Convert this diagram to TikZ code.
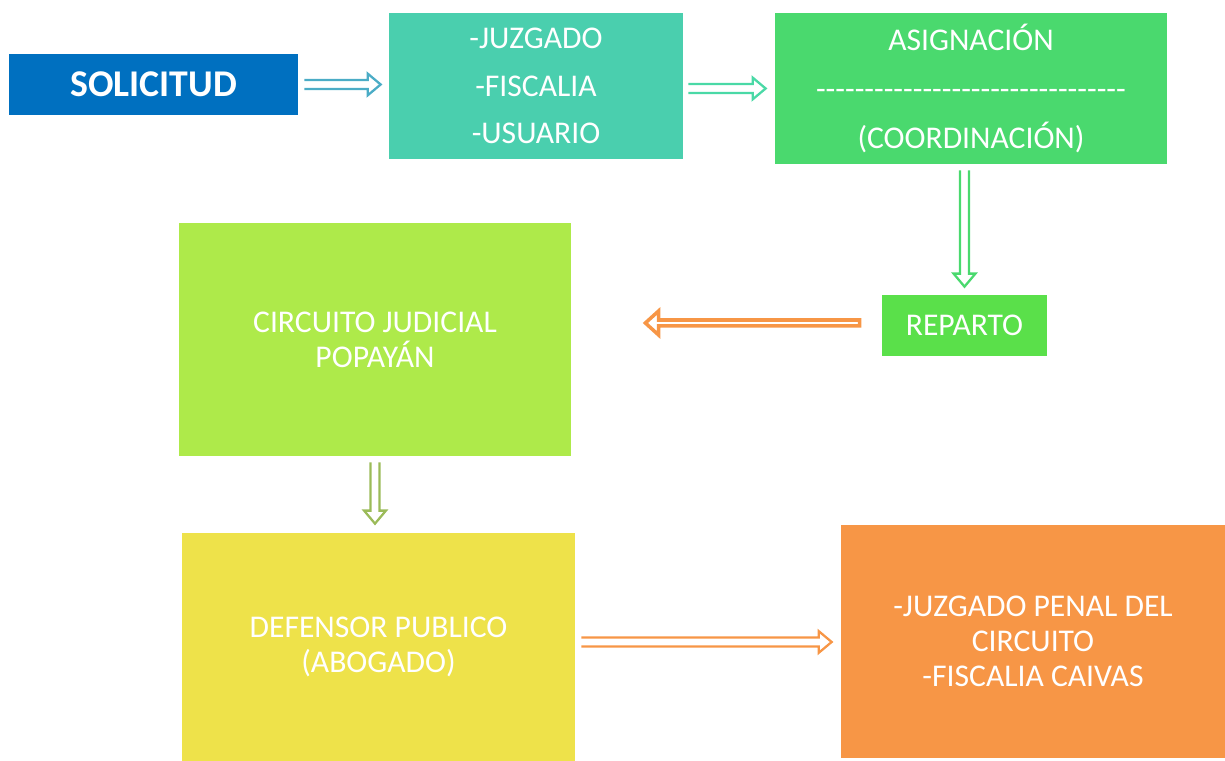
\documentclass[tikz,border=0pt]{standalone}
\usepackage{fontspec}
\setmainfont{Carlito}
\usepackage{tikz}
\usetikzlibrary{positioning}
\usetikzlibrary{calc}
\usepackage{xcolor}

\definecolor{solblue}{HTML}{0070C0}
\definecolor{juzteal}{HTML}{4ACFAE}
\definecolor{asigreen}{HTML}{4AD96E}
\definecolor{repgreen}{HTML}{5AE04A}
\definecolor{circlime}{HTML}{AEEA4A}
\definecolor{defyellow}{HTML}{EEE24A}
\definecolor{penorange}{HTML}{F79646}
\definecolor{arrblue}{HTML}{4BACC6}
\definecolor{arrteal}{HTML}{4AD9A6}
\definecolor{arrgreen}{HTML}{4AD96E}
\definecolor{arrolive}{HTML}{9BBB59}

\newcommand{\guiones}{\foreach \i in {1,...,32}{-\kern0pt}}

\tikzset{
  pini/.store in=\pini, pfin/.store in=\pfin,
  cuerpo/.store in=\cuerpo, ala/.store in=\ala, punta/.store in=\punta,
  pini=0pt, pfin=0pt, cuerpo=2.6pt, ala=6.2pt, punta=7.4pt,
  caja/.style={rectangle, draw=none, text=white, align=center, font=\fontsize{18}{20}\selectfont},
  % flecha hueca abierta atras
  hueca/.style={line width=1.3pt, to path={
    let \p1=($(\tikztotarget)-(\tikztostart)$), \n1={atan2(\y1,\x1)}, \n2={veclen(\x1,\y1)} in
    {[shift={(\tikztostart)}, rotate=\n1]
     (\pini,\cuerpo) -- (\n2-\pfin-\punta,\cuerpo) -- (\n2-\pfin-\punta,\ala) -- (\n2-\pfin,0)
     -- (\n2-\pfin-\punta,-\ala) -- (\n2-\pfin-\punta,-\cuerpo) -- (\pini,-\cuerpo)}
  }},
  % flecha hueca cerrada
  huecac/.style={line width=2pt, to path={
    let \p1=($(\tikztotarget)-(\tikztostart)$), \n1={atan2(\y1,\x1)}, \n2={veclen(\x1,\y1)} in
    {[shift={(\tikztostart)}, rotate=\n1]
     (\pini,\cuerpo) -- (\n2-\pfin-\punta,\cuerpo) -- (\n2-\pfin-\punta,\ala) -- (\n2-\pfin,0)
     -- (\n2-\pfin-\punta,-\ala) -- (\n2-\pfin-\punta,-\cuerpo) -- (\pini,-\cuerpo) -- cycle}
  }}
}

\begin{document}
\begin{tikzpicture}
\useasboundingbox (0,0) rectangle (24.5,15.22);

\node[caja, fill=solblue, minimum width=5.78cm, minimum height=1.22cm, font=\fontsize{21.5}{24}\selectfont\bfseries] (sol) at (3.07,13.53) {SOLICITUD};
\node[caja, fill=juzteal, minimum width=5.88cm, minimum height=2.92cm, font=\fontsize{18}{27}\selectfont] (juz) at (10.72,13.50) {-JUZGADO\\-FISCALIA\\-USUARIO};
\node[caja, fill=asigreen, minimum width=7.84cm, minimum height=3.02cm, font=\fontsize{18}{28}\selectfont] (asig) at (19.42,13.45) {ASIGNACIÓN\\\guiones\\(COORDINACIÓN)};
\node[caja, fill=repgreen, minimum width=3.30cm, minimum height=1.22cm] (rep) at (19.29,8.71) {REPARTO};
\node[caja, fill=circlime, minimum width=7.84cm, minimum height=4.66cm] (circ) at (7.50,8.43) {CIRCUITO JUDICIAL\\POPAYÁN};
\node[caja, fill=defyellow, minimum width=7.86cm, minimum height=4.56cm] (def) at (7.57,2.28) {DEFENSOR PUBLICO\\(ABOGADO)};
\node[caja, fill=penorange, minimum width=7.68cm, minimum height=4.66cm] (pen) at (20.66,2.39) {-JUZGADO PENAL DEL\\CIRCUITO\\-FISCALIA CAIVAS};

% flechas
\draw[hueca, draw=arrblue, pini=0.12cm, pfin=0.16cm] (sol.east) to (juz.west |- sol.east);
\draw[hueca, draw=arrteal, pini=0.1cm, pfin=0.18cm] (juz.east |- asig.west) to (asig.west);
\draw[hueca, draw=arrgreen, pini=0.12cm, pfin=0.16cm] (asig.south -| rep.north) to (rep.north);
\draw[huecac, draw=penorange, pini=0.44cm, pfin=1.48cm, cuerpo=1.7pt, ala=6.8pt, punta=7.5pt] ($(rep.west)+(0,0.05)$) to ($(circ.east |- rep.west)+(0,0.05)$);
\draw[hueca, draw=arrolive, pini=0.12cm, pfin=0.18cm] (circ.south) to (def.north -| circ.south);
\draw[hueca, draw=penorange, pini=0.12cm, pfin=0.18cm] (def.east |- {(0,2.38)}) to (pen.west |- {(0,2.38)});

\end{tikzpicture}
\end{document}
